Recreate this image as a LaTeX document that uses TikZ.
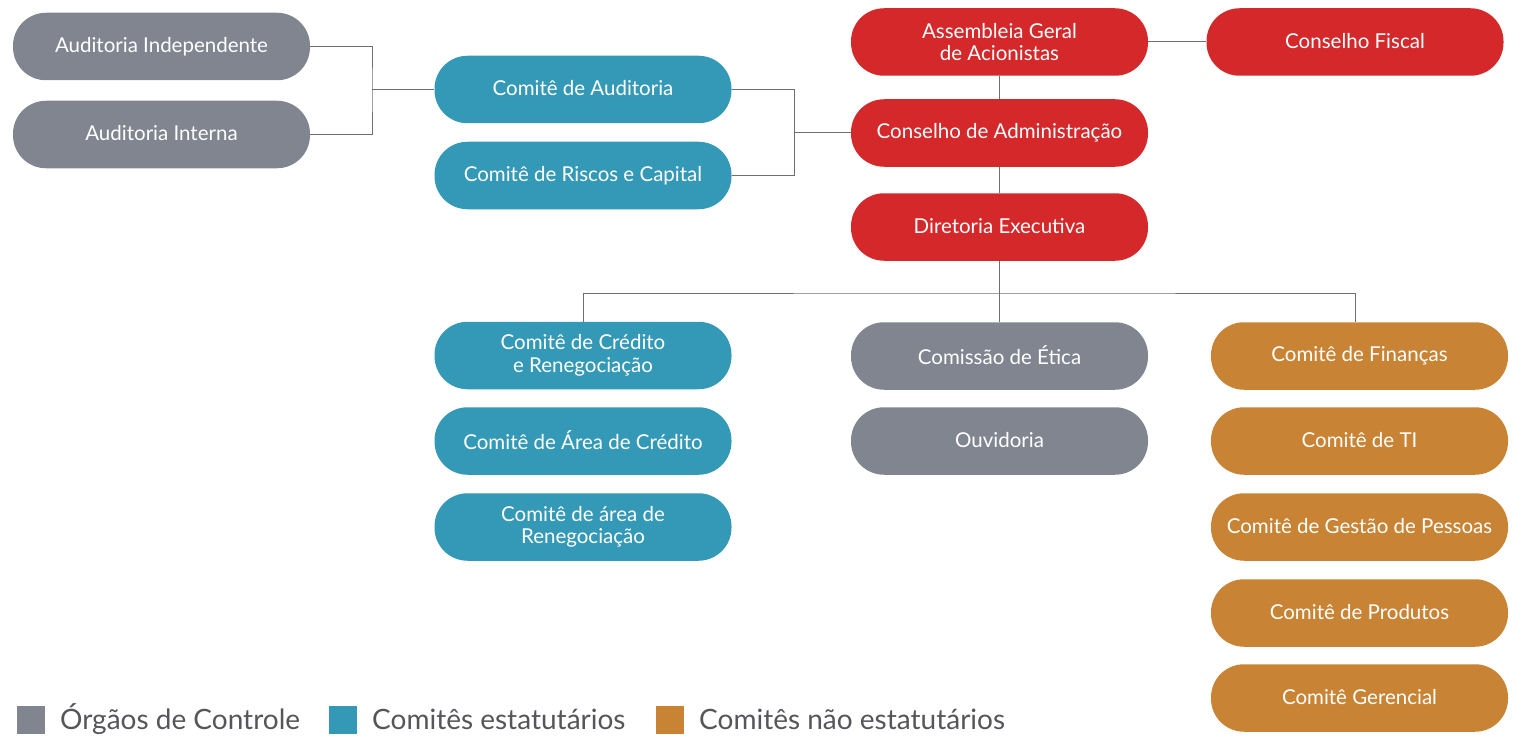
\documentclass[tikz,border=0pt]{standalone}
\usepackage{fontspec}
\setmainfont{Lato}
\definecolor{cgray}{RGB}{128,133,144}
\definecolor{cteal}{RGB}{52,153,182}
\definecolor{cred}{RGB}{212,40,42}
\definecolor{corange}{RGB}{200,132,52}
\definecolor{cline}{RGB}{110,110,115}
\definecolor{ctext}{RGB}{85,85,90}
\newcommand\rupx[1]{\raisebox{2.5pt}{#1}}
\begin{document}
\begin{tikzpicture}[x=1pt,y=-1pt,
  box/.style={rectangle,rounded corners=33pt,minimum width=297pt,minimum height=67.5pt,inner sep=0pt,text=white,font=\fontsize{20.5}{22.5}\selectfont,align=center},
  gbox/.style={box,fill=cgray},
  tbox/.style={box,fill=cteal},
  rbox/.style={box,fill=cred},
  obox/.style={box,fill=corange},
  conn/.style={draw=cline,line width=1pt},
  legsq/.style={rectangle,minimum size=28pt,inner sep=0pt},
  legtxt/.style={anchor=west,inner sep=0pt,text=ctext,font=\fontsize{28}{30}\selectfont}]
\useasboundingbox (0,0) rectangle (1523,741);
% nodes
\node[gbox] (ai) at (161.5,46.5) {\rupx{Auditoria Independente}};
\node[gbox] (aint) at (161.5,134.5) {\rupx{Auditoria Interna}};
\node[tbox] (ca) at (583,89.5) {\rupx{Comitê de Auditoria}};
\node[tbox] (crc) at (583,175.5) {\rupx{Comitê de Riscos e Capital}};
\node[rbox] (ag) at (999.5,42) {Assembleia Geral\\de Acionistas};
\node[rbox] (cf) at (1355,42) {\rupx{Conselho Fiscal}};
\node[rbox] (cad) at (999.5,133) {\rupx{Conselho de Administração}};
\node[rbox] (de) at (999.5,227) {\rupx{Diretoria Executiva}};
\node[tbox] (ccr) at (583,355.5) {Comitê de Crédito\\e Renegociação};
\node[tbox] (cac) at (583,441) {\rupx{Comitê de Área de Crédito}};
\node[tbox] (car) at (583,527) {Comitê de área de\\Renegociação};
\node[gbox] (ce) at (999.5,356) {\rupx{Comissão de Ética}};
\node[gbox] (ouv) at (999.5,441) {\rupx{Ouvidoria}};
\node[obox] (cfin) at (1359.5,356) {\rupx{Comitê de Finanças}};
\node[obox] (cti) at (1359.5,441) {\rupx{Comitê de TI}};
\node[obox] (cgp) at (1359.5,527) {\rupx{Comitê de Gestão de Pessoas}};
\node[obox] (cprod) at (1359.5,613) {\rupx{Comitê de Produtos}};
\node[obox] (cger) at (1359.5,698) {\rupx{Comitê Gerencial}};
% connectors
\coordinate (j1) at (372,89.5);
\coordinate (j2) at (794,133);
\coordinate (j3) at (999.5,293);
\draw[conn] (ai.east) -| (j1) |- (aint.east);
\draw[conn] (j1) -- (ca.west);
\draw[conn] (ca.east) -| (j2) |- (crc.east);
\draw[conn] (j2) -- (cad.west);
\draw[conn] (ag.east) -- (cf.west);
\draw[conn] (ag.south) -- (cad.north);
\draw[conn] (cad.south) -- (de.north);
\draw[conn] (de.south) -- (ce.north);
\draw[conn] (ccr.north) |- (j3) -| ([xshift=-4.5pt]cfin.north);
% legend
\node[legsq,fill=cgray] (l1) at (30.5,719.5) {};
\node[legtxt] (t1) at (60,719.5) {Órgãos de Controle};
\node[legsq,fill=cteal] (l2) at (342.5,719.5) {};
\node[legtxt] (t2) at (372,719.5) {Comitês estatutários};
\node[legsq,fill=corange] (l3) at (669.5,719.5) {};
\node[legtxt] (t3) at (699,719.5) {Comitês não estatutários};
\end{tikzpicture}
\end{document}
